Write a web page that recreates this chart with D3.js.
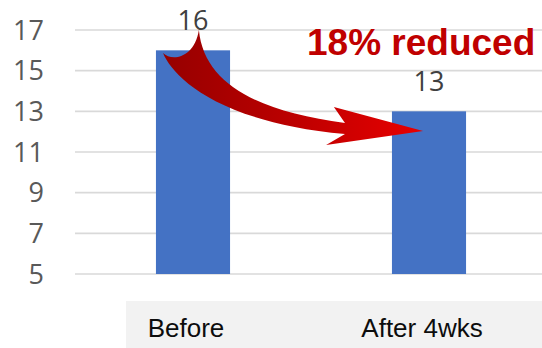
<!DOCTYPE html>
<html>
<head>
<meta charset="utf-8">
<script src="https://cdn.jsdelivr.net/npm/d3@7"></script>
<style>
  html, body { margin: 0; padding: 0; background: #fff; }
  svg { display: block; }
</style>
</head>
<body>
<script>
// ---- data ----
const categories = ["Before", "After 4wks"];
const values = [16, 13];
const yTicks = [5, 7, 9, 11, 13, 15, 17];
const annotationText = "18% reduced";

// Arrow annotation geometry in data space:
// u = fraction between the two category centres (0 = Before, 1 = After 4wks), v = value
const arrowT      = [0.025, 17.0];
const arrowUpC1   = [0.047, 14.3];
const arrowUpC2   = [0.284, 12.97];
const arrowJ1     = [0.644, 12.43];
const arrowBarbUp = [0.597, 13.21];
const arrowTip    = [0.975, 12.03];
const arrowBarbLo = [0.564, 11.34];
const arrowJ2     = [0.644, 11.88];
const arrowLoC2   = [0.093, 12.47];
const arrowLoC1   = [-0.089, 14.79];
const arrowL      = [-0.127, 15.87];
const arrowTailC1 = [-0.089, 15.43];
const arrowTailC2 = [0.006, 15.62];

// ---- layout ----
const W = 542, H = 348;
const svg = d3.select("body").append("svg").attr("width", W).attr("height", H);

const y = d3.scaleLinear().domain([5, 17]).range([274, 30]);
const x = d3.scaleBand().domain(categories).range([75, 547])
  .paddingInner(0.686).paddingOuter(0.343);
const cx = c => x(c) + x.bandwidth() / 2;
const u = d3.scaleLinear().domain([0, 1]).range([cx(categories[0]), cx(categories[1])]);
const P = p => [u(p[0]), y(p[1])];

// category band background
svg.append("rect")
  .attr("x", x(categories[0]) - 30).attr("y", 301)
  .attr("width", W).attr("height", H - 301)
  .attr("fill", "#f2f2f2");

// gridlines
svg.append("g").selectAll("line").data(yTicks).join("line")
  .attr("x1", 75).attr("x2", W)
  .attr("y1", d => y(d)).attr("y2", d => y(d))
  .attr("stroke", "#d9d9d9").attr("stroke-width", 1.6);

// y tick labels
svg.append("g").selectAll("text").data(yTicks).join("text")
  .attr("x", 44).attr("y", d => y(d)).attr("dy", "0.36em")
  .attr("text-anchor", "end")
  .attr("font-family", "'Open Sans', sans-serif").attr("font-size", 27)
  .attr("fill", "#595959")
  .text(d => d);

// bars
svg.append("g").selectAll("rect").data(values).join("rect")
  .attr("x", (d, i) => x(categories[i]))
  .attr("width", x.bandwidth())
  .attr("y", d => y(d))
  .attr("height", d => y(5) - y(d))
  .attr("fill", "#4472c4");

// value labels
svg.append("g").selectAll("text").data(values).join("text")
  .attr("x", (d, i) => cx(categories[i]))
  .attr("y", d => y(d) - 20)
  .attr("text-anchor", "middle")
  .attr("font-family", "'Open Sans', sans-serif").attr("font-size", 27)
  .attr("fill", "#404040")
  .text(d => d);

// category labels
svg.append("g").selectAll("text").data(categories).join("text")
  .attr("x", d => cx(d) - 7)
  .attr("y", 337)
  .attr("text-anchor", "middle")
  .attr("font-family", "'Liberation Sans', Arial, sans-serif").attr("font-size", 26)
  .attr("fill", "#0d0d0d")
  .text(d => d);

// arrow annotation
const defs = svg.append("defs");
const grad = defs.append("linearGradient").attr("id", "arrowGrad")
  .attr("gradientUnits", "userSpaceOnUse")
  .attr("x1", P(arrowL)[0]).attr("y1", 0)
  .attr("x2", P(arrowTip)[0]).attr("y2", 0);
grad.append("stop").attr("offset", 0).attr("stop-color", "#960000");
grad.append("stop").attr("offset", 0.45).attr("stop-color", "#b80000");
grad.append("stop").attr("offset", 1).attr("stop-color", "#e80000");

const path = d3.path();
const T = P(arrowT);
path.moveTo(...T);
path.bezierCurveTo(...P(arrowUpC1), ...P(arrowUpC2), ...P(arrowJ1));
path.lineTo(...P(arrowBarbUp));
path.lineTo(...P(arrowTip));
path.lineTo(...P(arrowBarbLo));
path.lineTo(...P(arrowJ2));
path.bezierCurveTo(...P(arrowLoC2), ...P(arrowLoC1), ...P(arrowL));
path.bezierCurveTo(...P(arrowTailC1), ...P(arrowTailC2), ...T);
path.closePath();

svg.append("path").attr("d", path.toString()).attr("fill", "url(#arrowGrad)");

// annotation text
svg.append("text")
  .attr("x", cx(categories[1]) - 122)
  .attr("y", y(16) + 5)
  .attr("font-family", "'Liberation Sans', Arial, sans-serif")
  .attr("font-weight", "bold").attr("font-size", 37)
  .attr("fill", "#c00000")
  .text(annotationText);
</script>
</body>
</html>
